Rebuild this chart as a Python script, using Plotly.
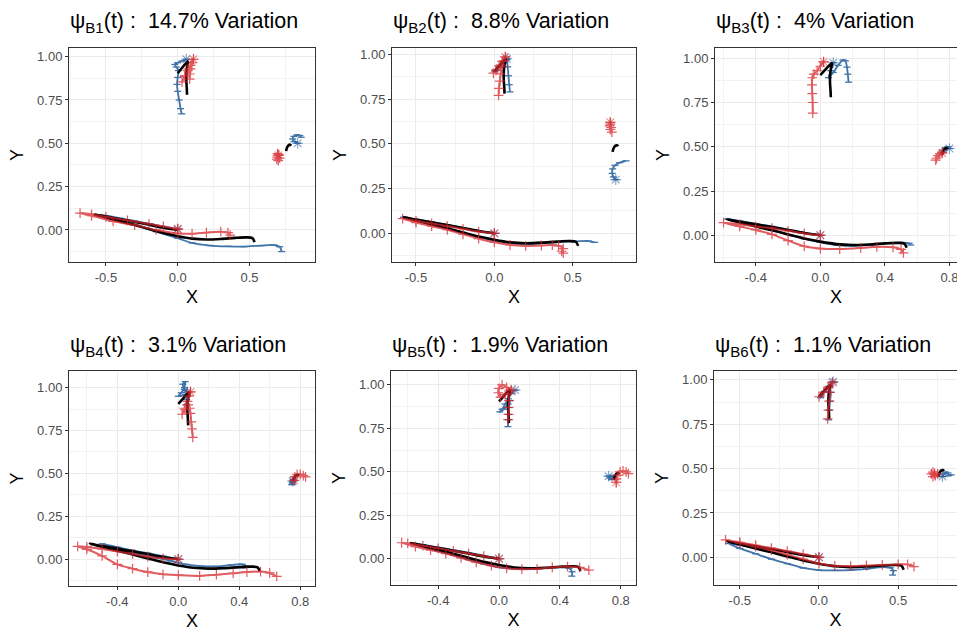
import plotly.graph_objects as go

# ---------------- data ----------------
PANEL_IDS = ["B1", "B2", "B3", "B4", "B5", "B6"]
VARIATION = ["14.7%", "8.8%", "4%", "3.1%", "1.9%", "1.1%"]

X_TICKS_A = [-0.5, 0.0, 0.5]
X_TICKTEXT_A = ["-0.5", "0.0", "0.5"]
X_MINOR_A = [-0.75, -0.25, 0.25, 0.75]
X_TICKS_B = [-0.4, 0.0, 0.4, 0.8]
X_TICKTEXT_B = ["-0.4", "0.0", "0.4", "0.8"]
X_MINOR_B = [-0.6, -0.2, 0.2, 0.6]
Y_TICKS = [0.0, 0.25, 0.5, 0.75, 1.0]
Y_TICKTEXT = ["0.00", "0.25", "0.50", "0.75", "1.00"]
Y_MINOR = [-0.125, 0.125, 0.375, 0.625, 0.875]

# mean trajectory (black), identical in all panels
MEAN_LOWER = [(0, 0), (-0.1, 0.013), (-0.2, 0.03), (-0.3, 0.046), (-0.4, 0.062), (-0.5, 0.077),
              (-0.58, 0.09), (-0.5, 0.072), (-0.4, 0.05), (-0.3, 0.028), (-0.2, 0.005), (-0.1, -0.018),
              (0.0, -0.036), (0.1, -0.05), (0.2, -0.055), (0.3, -0.052), (0.4, -0.046), (0.48, -0.043),
              (0.52, -0.047), (0.535, -0.07)]
MEAN_TOP = [(0.075, 0.975), (0.05, 0.955), (0.025, 0.93), (0.0, 0.905), (0.025, 0.93), (0.05, 0.955),
            (0.072, 0.97), (0.065, 0.94), (0.06, 0.9), (0.06, 0.86), (0.063, 0.82), (0.065, 0.78)]
MEAN_RIGHT = [(0.755, 0.455), (0.758, 0.468), (0.764, 0.48), (0.773, 0.49), (0.783, 0.492), (0.79, 0.486)]

# ---- B1 ----
B1_RED_LOWER = [(0, 0.005), (-0.1, 0.02), (-0.2, 0.035), (-0.35, 0.055), (-0.5, 0.075), (-0.6, 0.09),
                (-0.68, 0.097), (-0.6, 0.082), (-0.45, 0.05), (-0.3, 0.028), (-0.15, 0.0), (0.0, -0.02),
                (0.1, -0.022), (0.2, -0.015), (0.3, -0.01), (0.35, -0.015), (0.365, -0.03)]
B1_BLUE_LOWER = [(0, 0.005), (-0.1, 0.02), (-0.2, 0.036), (-0.3, 0.052), (-0.4, 0.067), (-0.5, 0.082),
                 (-0.55, 0.088), (-0.45, 0.06), (-0.3, 0.03), (-0.15, -0.01), (0.0, -0.048), (0.1, -0.075),
                 (0.225, -0.09), (0.35, -0.095), (0.46, -0.096), (0.58, -0.09), (0.67, -0.087),
                 (0.71, -0.097), (0.724, -0.125)]
B1_RED_TOP = [(0.11, 0.985), (0.09, 0.95), (0.07, 0.92), (0.05, 0.885), (0.03, 0.855), (0.05, 0.89),
              (0.075, 0.93), (0.1, 0.965), (0.09, 0.93), (0.085, 0.9), (0.083, 0.87)]
B1_BLUE_TOP = [(0.06, 0.985), (0.03, 0.975), (0.0, 0.965), (-0.02, 0.955), (-0.01, 0.94), (0.005, 0.92),
               (0.0, 0.88), (-0.005, 0.84), (0.0, 0.8), (0.01, 0.75), (0.02, 0.7), (0.028, 0.67)]
B1_RED_RIGHT = [(0.7, 0.43), (0.692, 0.42), (0.69, 0.408), (0.7, 0.4), (0.71, 0.415), (0.705, 0.435),
                (0.695, 0.44)]
B1_BLUE_RIGHT = [(0.835, 0.5), (0.81, 0.51), (0.8, 0.525), (0.81, 0.54), (0.83, 0.548), (0.85, 0.545),
                 (0.86, 0.535)]

# ---- B2 ----
B2_RED_LOWER = [(0, 0), (-0.1, 0.01), (-0.2, 0.025), (-0.3, 0.04), (-0.4, 0.055), (-0.5, 0.07),
                (-0.585, 0.082), (-0.5, 0.06), (-0.4, 0.04), (-0.3, 0.02), (-0.2, -0.005), (-0.1, -0.03),
                (0.0, -0.05), (0.1, -0.065), (0.2, -0.07), (0.3, -0.068), (0.37, -0.065), (0.41, -0.07),
                (0.44, -0.085), (0.43, -0.1), (0.44, -0.11)]
B2_BLUE_LOWER = [(0, 0), (-0.1, 0.014), (-0.2, 0.03), (-0.3, 0.047), (-0.4, 0.063), (-0.5, 0.078),
                 (-0.58, 0.09), (-0.5, 0.072), (-0.4, 0.05), (-0.3, 0.03), (-0.2, 0.005), (-0.1, -0.02),
                 (0.0, -0.04), (0.1, -0.055), (0.2, -0.06), (0.3, -0.056), (0.4, -0.05), (0.5, -0.045),
                 (0.6, -0.043), (0.64, -0.05)]
B2_RED_TOP = [(0.07, 0.985), (0.05, 0.96), (0.03, 0.935), (0.01, 0.91), (-0.006, 0.895), (0.015, 0.915),
              (0.04, 0.94), (0.06, 0.965), (0.05, 0.93), (0.04, 0.89), (0.035, 0.85), (0.03, 0.81),
              (0.027, 0.77)]
B2_BLUE_TOP = [(0.08, 0.975), (0.06, 0.955), (0.035, 0.93), (0.01, 0.91), (0.004, 0.903), (0.03, 0.93),
               (0.06, 0.96), (0.08, 0.97), (0.085, 0.93), (0.09, 0.88), (0.095, 0.83), (0.1, 0.79)]
B2_RED_RIGHT = [(0.74, 0.62), (0.735, 0.6), (0.74, 0.58), (0.75, 0.565), (0.745, 0.59), (0.74, 0.61)]
B2_BLUE_RIGHT = [(0.775, 0.3), (0.76, 0.315), (0.752, 0.335), (0.755, 0.36), (0.77, 0.38), (0.8, 0.395),
                 (0.84, 0.405)]

# ---- B3 ----
B3_RED_LOWER = [(0, 0), (-0.1, 0.01), (-0.2, 0.025), (-0.3, 0.04), (-0.4, 0.05), (-0.5, 0.062),
                (-0.6, 0.072), (-0.5, 0.05), (-0.4, 0.03), (-0.3, 0.005), (-0.2, -0.03), (-0.1, -0.062),
                (0.0, -0.075), (0.12, -0.078), (0.25, -0.072), (0.35, -0.065), (0.45, -0.068),
                (0.5, -0.08), (0.515, -0.1)]
B3_BLUE_LOWER = [(0, 0), (-0.1, 0.015), (-0.2, 0.032), (-0.3, 0.05), (-0.4, 0.065), (-0.5, 0.08),
                 (-0.575, 0.092), (-0.5, 0.075), (-0.4, 0.052), (-0.3, 0.03), (-0.2, 0.005), (-0.1, -0.02),
                 (0.0, -0.04), (0.1, -0.055), (0.2, -0.06), (0.3, -0.055), (0.4, -0.047), (0.5, -0.042),
                 (0.55, -0.045), (0.56, -0.055)]
B3_RED_TOP = [(0.02, 0.98), (0.0, 0.955), (-0.02, 0.93), (-0.04, 0.91), (-0.05, 0.89), (-0.052, 0.85),
              (-0.05, 0.8), (-0.048, 0.75), (-0.047, 0.69)]
B3_BLUE_TOP = [(0.08, 0.975), (0.065, 0.93), (0.05, 0.89), (0.08, 0.92), (0.11, 0.96), (0.14, 0.99),
               (0.155, 0.985), (0.165, 0.95), (0.17, 0.91), (0.175, 0.865)]
B3_RED_RIGHT = [(0.755, 0.465), (0.74, 0.46), (0.73, 0.45), (0.72, 0.435), (0.715, 0.425)]
B3_BLUE_RIGHT = [(0.8, 0.49), (0.79, 0.5), (0.775, 0.495), (0.765, 0.48), (0.76, 0.47)]

# ---- B4 ----
B4_RED_LOWER = [(0, 0), (-0.1, 0.005), (-0.2, 0.015), (-0.3, 0.03), (-0.4, 0.045), (-0.5, 0.06),
                (-0.6, 0.072), (-0.66, 0.075), (-0.6, 0.058), (-0.5, 0.02), (-0.4, -0.03), (-0.3, -0.055),
                (-0.2, -0.075), (-0.1, -0.088), (0.0, -0.093), (0.14, -0.097), (0.25, -0.09),
                (0.36, -0.082), (0.45, -0.075), (0.54, -0.072), (0.6, -0.08), (0.646, -0.1)]
B4_BLUE_LOWER = [(0, 0), (-0.1, 0.018), (-0.2, 0.035), (-0.3, 0.052), (-0.4, 0.07), (-0.5, 0.09),
                 (-0.45, 0.07), (-0.35, 0.05), (-0.25, 0.03), (-0.15, 0.01), (-0.05, -0.01), (0.05, -0.03),
                 (0.15, -0.04), (0.25, -0.042), (0.35, -0.033), (0.42, -0.03), (0.44, -0.04), (0.42, -0.05)]
B4_RED_TOP = [(0.08, 0.975), (0.07, 0.95), (0.06, 0.92), (0.04, 0.88), (0.025, 0.845), (0.045, 0.87),
              (0.065, 0.9), (0.075, 0.88), (0.08, 0.85), (0.085, 0.8), (0.09, 0.76), (0.095, 0.71)]
B4_BLUE_TOP = [(0.06, 0.975), (0.04, 0.99), (0.03, 1.02), (0.045, 1.035), (0.04, 1.0), (0.02, 0.97),
               (0.0, 0.95), (0.03, 0.955), (0.05, 0.96), (0.055, 0.93), (0.05, 0.9)]
B4_RED_RIGHT = [(0.76, 0.46), (0.765, 0.48), (0.78, 0.495), (0.8, 0.495), (0.82, 0.487), (0.835, 0.48)]
B4_BLUE_RIGHT = [(0.75, 0.455), (0.748, 0.445), (0.745, 0.435), (0.75, 0.45), (0.755, 0.465)]

# ---- B5 ----
B5_RED_LOWER = [(0, 0), (-0.1, 0.015), (-0.2, 0.03), (-0.3, 0.045), (-0.4, 0.06), (-0.5, 0.075),
                (-0.6, 0.088), (-0.64, 0.092), (-0.55, 0.07), (-0.45, 0.05), (-0.35, 0.03), (-0.25, 0.005),
                (-0.15, -0.02), (-0.05, -0.04), (0.05, -0.055), (0.15, -0.06), (0.25, -0.058),
                (0.35, -0.05), (0.45, -0.045), (0.53, -0.05), (0.59, -0.065)]
B5_BLUE_LOWER = [(0, 0), (-0.1, 0.018), (-0.2, 0.035), (-0.3, 0.05), (-0.4, 0.065), (-0.5, 0.08),
                 (-0.56, 0.088), (-0.5, 0.07), (-0.4, 0.045), (-0.3, 0.02), (-0.2, -0.005), (-0.1, -0.03),
                 (0.0, -0.05), (0.1, -0.058), (0.2, -0.06), (0.3, -0.055), (0.4, -0.05), (0.46, -0.055),
                 (0.48, -0.075), (0.478, -0.1)]
B5_RED_TOP = [(0.08, 0.97), (0.05, 0.985), (0.02, 1.0), (0.0, 0.98), (-0.005, 0.955), (0.01, 0.93),
              (0.04, 0.945), (0.06, 0.95), (0.065, 0.91), (0.063, 0.87), (0.062, 0.83), (0.06, 0.8)]
B5_BLUE_TOP = [(0.105, 0.97), (0.08, 0.95), (0.06, 0.92), (0.04, 0.89), (0.02, 0.86), (0.005, 0.845),
               (0.03, 0.86), (0.06, 0.89), (0.072, 0.91), (0.065, 0.87), (0.062, 0.83), (0.06, 0.8),
               (0.058, 0.76)]
B5_RED_RIGHT = [(0.77, 0.44), (0.772, 0.46), (0.78, 0.48), (0.795, 0.5), (0.815, 0.505), (0.835, 0.5),
                (0.85, 0.49)]
B5_BLUE_RIGHT = [(0.72, 0.475), (0.73, 0.465), (0.74, 0.455), (0.745, 0.46), (0.75, 0.47), (0.745, 0.48)]

# ---- B6 ----
B6_RED_LOWER = [(0, 0), (-0.1, 0.018), (-0.2, 0.035), (-0.3, 0.052), (-0.4, 0.068), (-0.5, 0.085),
                (-0.59, 0.098), (-0.5, 0.08), (-0.4, 0.06), (-0.3, 0.04), (-0.2, 0.015), (-0.1, -0.01),
                (0.0, -0.035), (0.1, -0.048), (0.2, -0.05), (0.3, -0.046), (0.4, -0.043), (0.5, -0.04),
                (0.56, -0.04), (0.6, -0.052)]
B6_BLUE_LOWER = [(0, 0), (-0.1, 0.015), (-0.2, 0.03), (-0.3, 0.045), (-0.4, 0.058), (-0.5, 0.07),
                 (-0.57, 0.078), (-0.5, 0.05), (-0.4, 0.02), (-0.3, -0.01), (-0.2, -0.035), (-0.1, -0.06),
                 (0.0, -0.072), (0.1, -0.074), (0.2, -0.072), (0.3, -0.065), (0.4, -0.055), (0.45, -0.058),
                 (0.47, -0.075), (0.465, -0.1)]
B6_RED_TOP = [(0.085, 0.985), (0.06, 0.96), (0.03, 0.93), (0.0, 0.905), (0.03, 0.93), (0.06, 0.955),
              (0.07, 0.93), (0.065, 0.88), (0.06, 0.83), (0.055, 0.78)]
B6_BLUE_TOP = [(0.09, 0.99), (0.065, 0.965), (0.035, 0.935), (0.01, 0.9), (0.035, 0.93), (0.065, 0.96),
               (0.075, 0.93), (0.07, 0.88), (0.065, 0.83), (0.06, 0.775)]
B6_RED_RIGHT = [(0.73, 0.47), (0.72, 0.48), (0.71, 0.47), (0.72, 0.455), (0.735, 0.46), (0.75, 0.47)]
B6_BLUE_RIGHT = [(0.78, 0.455), (0.79, 0.47), (0.8, 0.48), (0.815, 0.475), (0.82, 0.46), (0.835, 0.465)]

RED_PATHS = [
    [B1_RED_LOWER, B1_RED_TOP, B1_RED_RIGHT],
    [B2_RED_LOWER, B2_RED_TOP, B2_RED_RIGHT],
    [B3_RED_LOWER, B3_RED_TOP, B3_RED_RIGHT],
    [B4_RED_LOWER, B4_RED_TOP, B4_RED_RIGHT],
    [B5_RED_LOWER, B5_RED_TOP, B5_RED_RIGHT],
    [B6_RED_LOWER, B6_RED_TOP, B6_RED_RIGHT],
]
BLUE_PATHS = [
    [B1_BLUE_LOWER, B1_BLUE_TOP, B1_BLUE_RIGHT],
    [B2_BLUE_LOWER, B2_BLUE_TOP, B2_BLUE_RIGHT],
    [B3_BLUE_LOWER, B3_BLUE_TOP, B3_BLUE_RIGHT],
    [B4_BLUE_LOWER, B4_BLUE_TOP, B4_BLUE_RIGHT],
    [B5_BLUE_LOWER, B5_BLUE_TOP, B5_BLUE_RIGHT],
    [B6_BLUE_LOWER, B6_BLUE_TOP, B6_BLUE_RIGHT],
]
MEAN_PATHS = [MEAN_LOWER, MEAN_TOP, MEAN_RIGHT]

# ---------------- layout helpers ----------------
W, H = 957, 631
RED = "#D7262B"
BLUE = "#1F5C9B"
BLACK = "#000000"

# panel boxes in pixels (left, right, top, bottom)
BOXES = [(69, 315, 48, 262), (392, 636, 48, 262), (715, 957, 48, 262),
         (69, 315, 371, 586), (391, 636, 371, 585), (714, 957, 371, 585)]
XRANGES = [(-0.757, 0.956), (-0.653, 0.904), (-0.653, 0.847),
           (-0.717, 0.897), (-0.71, 0.90), (-0.663, 0.872)]
YRANGES = [(-0.185, 1.05), (-0.16, 1.035), (-0.151, 1.058),
           (-0.156, 1.097), (-0.151, 1.08), (-0.156, 1.05)]
XTICK_STYLE = ["A", "A", "B", "B", "B", "A"]


def xy(path):
    return [p[0] for p in path], [p[1] for p in path]


fig = go.Figure()
layout = dict(
    width=W, height=H, margin=dict(l=0, r=0, t=0, b=0),
    paper_bgcolor="white", plot_bgcolor="white", showlegend=False,
    font=dict(family="Liberation Sans, Arial, sans-serif"),
)
annotations = []

for i in range(6):
    n = "" if i == 0 else str(i + 1)
    xa, ya = "x" + n, "y" + n
    left, right, top, bottom = BOXES[i]

    # blue (minus) paths
    for path in BLUE_PATHS[i]:
        px, py = xy(path)
        fig.add_trace(go.Scatter(
            x=px, y=py, xaxis=xa, yaxis=ya, mode="lines+markers",
            line=dict(color=BLUE, width=1.8, shape="spline", smoothing=0.8),
            marker=dict(symbol="line-ew-open", size=5, color=BLUE, line=dict(color=BLUE, width=1.3)),
            opacity=0.85, hoverinfo="skip"))
        fig.add_trace(go.Scatter(
            x=px[:1], y=py[:1], xaxis=xa, yaxis=ya, mode="markers",
            marker=dict(symbol="asterisk-open", size=9, color=BLUE, line=dict(color=BLUE, width=1.1)),
            opacity=0.55, hoverinfo="skip"))
    # black (mean) paths
    for path in MEAN_PATHS:
        px, py = xy(path)
        fig.add_trace(go.Scatter(
            x=px, y=py, xaxis=xa, yaxis=ya, mode="lines",
            line=dict(color=BLACK, width=2.6, shape="spline", smoothing=0.8),
            hoverinfo="skip"))
    # red (plus) paths
    for path in RED_PATHS[i]:
        px, py = xy(path)
        fig.add_trace(go.Scatter(
            x=px, y=py, xaxis=xa, yaxis=ya, mode="lines+markers",
            line=dict(color=RED, width=2.0, shape="spline", smoothing=0.8),
            marker=dict(symbol="cross-thin-open", size=7, color=RED, line=dict(color=RED, width=1.2)),
            opacity=0.75, hoverinfo="skip"))
        fig.add_trace(go.Scatter(
            x=px[:1], y=py[:1], xaxis=xa, yaxis=ya, mode="markers",
            marker=dict(symbol="asterisk-open", size=9, color=RED, line=dict(color=RED, width=1.1)),
            opacity=0.5, hoverinfo="skip"))

    if XTICK_STYLE[i] == "A":
        tv, tt, mv = X_TICKS_A, X_TICKTEXT_A, X_MINOR_A
    else:
        tv, tt, mv = X_TICKS_B, X_TICKTEXT_B, X_MINOR_B

    common = dict(showline=True, mirror=True, linecolor="#333333", linewidth=1,
                  ticks="outside", ticklen=3, tickcolor="#333333", tickwidth=1,
                  tickfont=dict(size=13, color="#4D4D4D"),
                  showgrid=True, gridcolor="#EBEBEB", gridwidth=1.1, zeroline=False)
    layout["xaxis" + n] = dict(
        domain=[left / W, right / W], anchor=ya, range=list(XRANGES[i]),
        tickmode="array", tickvals=tv, ticktext=tt, ticklabeloverflow="allow",
        minor=dict(tickmode="array", tickvals=mv, showgrid=True, gridcolor="#F2F2F2", gridwidth=0.6),
        title=dict(text="X", font=dict(size=18, color="#000000"), standoff=6), **common)
    layout["yaxis" + n] = dict(
        domain=[1 - bottom / H, 1 - top / H], anchor=xa, range=list(YRANGES[i]),
        tickmode="array", tickvals=Y_TICKS, ticktext=Y_TICKTEXT,
        minor=dict(tickmode="array", tickvals=Y_MINOR, showgrid=True, gridcolor="#F2F2F2", gridwidth=0.6),
        title=dict(text="Y", font=dict(size=18, color="#000000"), standoff=8), **common)

    annotations.append(dict(
        text="ψ<sub>%s</sub>(t) :  %s Variation" % (PANEL_IDS[i], VARIATION[i]),
        xref="paper", yref="paper", x=(left - 1) / W, y=1 - (top - 25) / H,
        xanchor="left", yanchor="middle", showarrow=False,
        font=dict(size=21.5, color="#000000")))

layout["annotations"] = annotations
fig.update_layout(**layout)
fig.write_html("out.html")
